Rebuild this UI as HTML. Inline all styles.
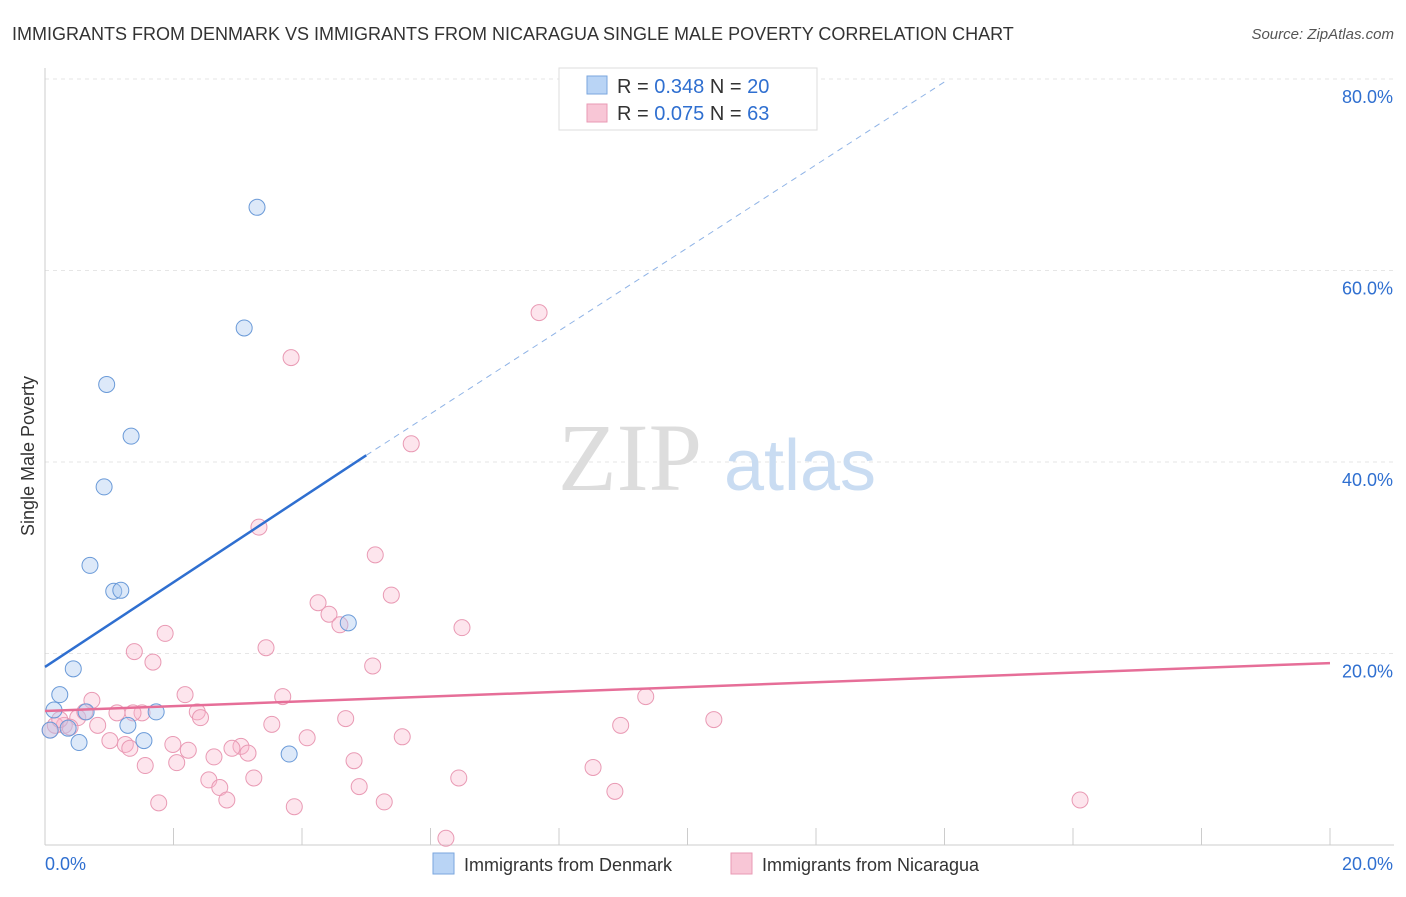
<!DOCTYPE html>
<html><head><meta charset="utf-8"><style>
body{margin:0;background:#fff;font-family:"Liberation Sans",sans-serif;}
</style></head><body>
<svg width="1406" height="892" xmlns="http://www.w3.org/2000/svg" style="font-family:'Liberation Sans',sans-serif">
<text x="12" y="40" font-size="18" fill="#333">IMMIGRANTS FROM DENMARK VS IMMIGRANTS FROM NICARAGUA SINGLE MALE POVERTY CORRELATION CHART</text>
<text x="1394" y="39" font-size="15" fill="#555" font-style="italic" text-anchor="end">Source: ZipAtlas.com</text>
<g id="grid"></g>
<text x="630" y="490" font-size="96" fill="#ddd" font-family="Liberation Serif" text-anchor="middle">ZIP</text>
<text x="800" y="490" font-size="72" fill="#c9dcf2" text-anchor="middle">atlas</text>
<text transform="translate(34,456) rotate(-90)" font-size="18" fill="#333" text-anchor="middle">Single Male Poverty</text>
<g id="marks"></g>
<g>
<rect x="559" y="68" width="258" height="62" fill="#fff" stroke="#ddd"/>
<rect x="587" y="76" width="20" height="18" fill="#b9d4f5" stroke="#7aa6de"/>
<rect x="587" y="104" width="20" height="18" fill="#f8c6d6" stroke="#e99ab4"/>
<text x="617" y="93" font-size="20" fill="#333">R = <tspan fill="#2f6fd0">0.348</tspan>   N = <tspan fill="#2f6fd0">20</tspan></text>
<text x="617" y="120" font-size="20" fill="#333">R = <tspan fill="#2f6fd0">0.075</tspan>   N = <tspan fill="#2f6fd0">63</tspan></text>
</g>
<g>
<rect x="433" y="853" width="21" height="21" fill="#b9d4f5" stroke="#7aa6de"/>
<text x="464" y="871" font-size="18" fill="#333">Immigrants from Denmark</text>
<rect x="731" y="853" width="21" height="21" fill="#f8c6d6" stroke="#e99ab4"/>
<text x="762" y="871" font-size="18" fill="#333">Immigrants from Nicaragua</text>
</g>
</svg>
<script>
const xTicks=[0,20];
const yTicks=[20,40,60,80];
const blueX=[3.30,3.10,0.96,1.34,0.92,0.70,1.07,1.18,4.72,0.44,0.23,0.14,0.64,1.73,1.29,0.36,0.53,1.54,3.80,0.08];
const blueY=[66.6,54.0,48.1,42.7,37.4,29.2,26.5,26.6,23.2,18.4,15.7,14.1,13.9,13.9,12.5,12.2,10.7,10.9,9.5,12.0];
const pinkX=[7.69,3.83,5.70,3.33,5.14,5.39,4.25,4.42,4.59,6.49,1.87,3.44,1.39,1.68,5.10,2.18,3.70,9.35,0.73,2.37,1.12,1.51,1.37,2.42,4.68,10.41,0.51,3.53,8.96,0.82,0.30,5.56,4.08,1.01,1.25,1.99,1.32,2.23,3.05,2.91,3.16,2.63,4.81,2.05,1.56,8.53,2.55,3.25,6.44,2.72,4.89,8.87,2.83,5.28,1.77,16.11,3.88,6.24,0.08,0.16,0.39,0.23,0.62];
const pinkY=[55.6,50.9,41.9,33.2,30.3,26.1,25.3,24.1,23.0,22.7,22.1,20.6,20.2,19.1,18.7,15.7,15.5,15.5,15.1,13.9,13.8,13.8,13.8,13.3,13.2,13.1,13.3,12.6,12.5,12.5,12.5,11.3,11.2,10.9,10.5,10.5,10.1,9.9,10.3,10.1,9.6,9.2,8.8,8.6,8.3,8.1,6.8,7.0,7.0,6.0,6.1,5.6,4.7,4.5,4.4,4.7,4.0,0.7,12.0,12.5,12.3,13.1,13.9];
const blueTrend=[0,18.6,5.0,40.7,14.0,79.7];
const pinkTrend=[0,14.0,20,19.0];
const NS='http://www.w3.org/2000/svg';
const X=v=>45+v/20*1285, Y=v=>845-v/20*191.5;
function mk(t,a,p){const e=document.createElementNS(NS,t);for(const k in a)e.setAttribute(k,a[k]);p.appendChild(e);return e;}
const g=document.getElementById('grid'), m=document.getElementById('marks');
yTicks.forEach(v=>{const l=mk('line',{x1:45,x2:1394,y1:Y(v),y2:Y(v),stroke:'#e6e6e6','stroke-dasharray':'4,4'},g);

const t=mk('text',{x:1393,y:Y(v)+24,'font-size':18,fill:'#2f6fd0','text-anchor':'end'},g);t.textContent=v.toFixed(1)+'%';
});
const ax=mk('line',{x1:45,x2:45,y1:68,y2:845,stroke:'#ccc'},g);

const bx=mk('line',{x1:45,x2:1394,y1:845,y2:845,stroke:'#ccc'},g);

for(let i=0;i<=10;i++){const tk=mk('line',{x1:X(i*2),x2:X(i*2),y1:828,y2:845,stroke:'#ccc'},g);
}
xTicks.forEach((v,i)=>{const t=mk('text',{x:i?1393:45,y:870,'font-size':18,fill:'#2f6fd0','text-anchor':i?'end':'start'},g);t.textContent=v.toFixed(1)+'%';
});
pinkX.forEach((x,i)=>{const c=mk('circle',{cx:X(x),cy:Y(pinkY[i]),r:8,fill:'rgba(248,180,204,0.35)',stroke:'#e99ab4','stroke-width':1},m);
});
blueX.forEach((x,i)=>{const c=mk('circle',{cx:X(x),cy:Y(blueY[i]),r:8,fill:'rgba(170,200,240,0.4)',stroke:'#6a9ad8','stroke-width':1},m);
});
const b1=mk('line',{x1:X(blueTrend[0]),y1:Y(blueTrend[1]),x2:X(blueTrend[2]),y2:Y(blueTrend[3]),stroke:'#2f6fd0','stroke-width':2.5},m);

const b2=mk('line',{x1:X(blueTrend[2]),y1:Y(blueTrend[3]),x2:X(blueTrend[4]),y2:Y(blueTrend[5]),stroke:'#8fb3e6','stroke-width':1,'stroke-dasharray':'6,5'},m);

const p1=mk('line',{x1:X(pinkTrend[0]),y1:Y(pinkTrend[1]),x2:X(pinkTrend[2]),y2:Y(pinkTrend[3]),stroke:'#e66e98','stroke-width':2.5},m);

</script>
</body></html>
